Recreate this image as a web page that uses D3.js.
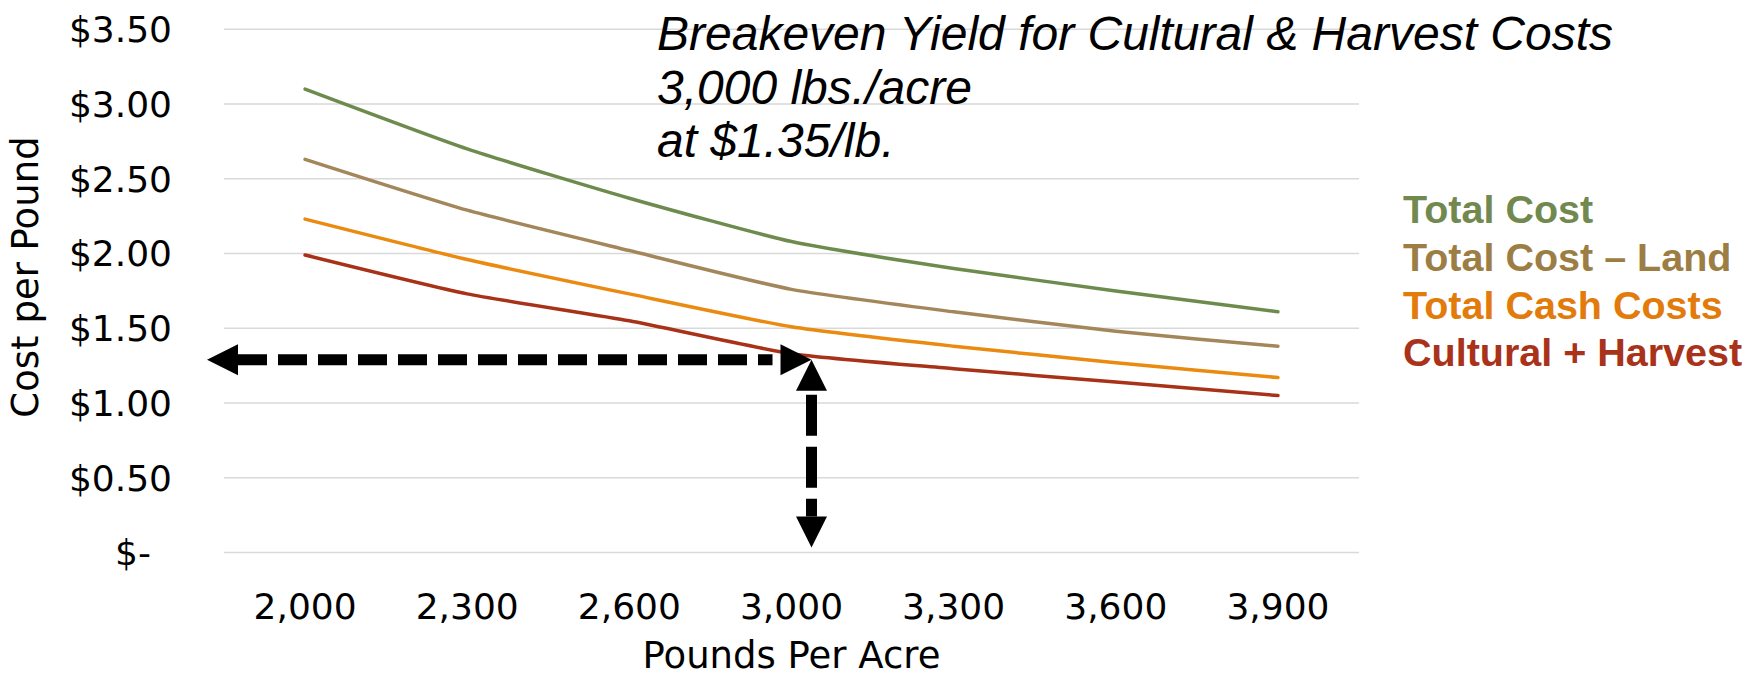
<!DOCTYPE html>
<html>
<head>
<meta charset="utf-8">
<script src="https://cdn.jsdelivr.net/npm/d3@7"></script>
<style>
  body { margin: 0; background: #fff; }
  svg { display: block; }
</style>
</head>
<body>
<div id="chart"></div>
<script>
// yields on the x axis (lbs / acre)
const yields = ["2,000", "2,300", "2,600", "3,000", "3,300", "3,600", "3,900"];

// cost per pound
const totalCost     = [3.10, 2.70, 2.37, 2.08, 1.90, 1.75, 1.61];
const totalNoLand   = [2.63, 2.29, 2.02, 1.76, 1.61, 1.48, 1.38];
const totalCash     = [2.23, 1.96, 1.73, 1.51, 1.38, 1.27, 1.17];
const culturalHarv  = [1.99, 1.73, 1.55, 1.33, 1.23, 1.14, 1.05];

const seriesNames = ["Total Cost", "Total Cost \u2013 Land", "Total Cash Costs", "Cultural + Harvest"];
const yTicks = [0, 0.5, 1, 1.5, 2, 2.5, 3, 3.5];
const yTickLabels = ["$-", "$0.50", "$1.00", "$1.50", "$2.00", "$2.50", "$3.00", "$3.50"];

const titleLines = ["Breakeven Yield for Cultural & Harvest Costs", "3,000 lbs./acre", "at $1.35/lb."];

// breakeven point marked by the arrows
const breakevenYield = "3,000";
const breakevenCost = 1.29;

const config = {
    width: 1760,
    height: 680,
    left: 224,
    right: 1359,
    top: 29.3,
    bottom: 552.5
};

const lineColors = ["#6d8b4d", "#a3875a", "#eb8a10", "#a83218"];
const textColors = ["#71894f", "#9c7e45", "#e27b0b", "#a9331a"];
const axisFont = "'DejaVu Sans', sans-serif";

const svg = d3.select("#chart")
    .append("svg")
    .attr("width", config.width)
    .attr("height", config.height);

const x = d3.scalePoint()
    .domain(yields)
    .range([config.left, config.right])
    .padding(0.5);

const y = d3.scaleLinear()
    .domain([0, 3.5])
    .range([config.bottom, config.top]);

// gridlines
svg.append("g")
    .selectAll("line")
    .data(yTicks)
    .enter()
    .append("line")
    .attr("x1", config.left)
    .attr("x2", config.right)
    .attr("y1", d => y(d))
    .attr("y2", d => y(d))
    .attr("stroke", "#d9d9d9")
    .attr("stroke-width", 1.6);

// y tick labels (accounting style, the dash sits a bit to the left)
svg.append("g")
    .selectAll("text")
    .data(yTicks)
    .enter()
    .append("text")
    .attr("x", d => d === 0 ? 151 : 172)
    .attr("y", d => y(d))
    .attr("dy", "0.36em")
    .attr("text-anchor", "end")
    .style("font-family", axisFont)
    .style("font-size", "36px")
    .attr("fill", "#000")
    .text((d, i) => yTickLabels[i]);

// x tick labels
svg.append("g")
    .selectAll("text")
    .data(yields)
    .enter()
    .append("text")
    .attr("x", d => x(d))
    .attr("y", 619)
    .attr("text-anchor", "middle")
    .style("font-family", axisFont)
    .style("font-size", "36px")
    .attr("fill", "#000")
    .text(d => d);

// axis titles
svg.append("text")
    .attr("transform", "translate(38,277) rotate(-90)")
    .attr("text-anchor", "middle")
    .style("font-family", axisFont)
    .style("font-size", "37px")
    .text("Cost per Pound");

svg.append("text")
    .attr("x", (config.left + config.right) / 2)
    .attr("y", 668)
    .attr("text-anchor", "middle")
    .style("font-family", axisFont)
    .style("font-size", "37px")
    .text("Pounds Per Acre");

// series lines
const allSeries = [totalCost, totalNoLand, totalCash, culturalHarv];

const line = d3.line()
    .x((d, i) => x(yields[i]))
    .y(d => y(d))
    .curve(d3.curveCardinal.tension(0.45));

svg.append("g")
    .selectAll("path")
    .data(allSeries)
    .enter()
    .append("path")
    .attr("d", d => line(d))
    .attr("fill", "none")
    .attr("stroke", (d, i) => lineColors[i])
    .attr("stroke-width", 3.5)
    .attr("stroke-linecap", "round");

// legend text on the right
svg.append("g")
    .selectAll("text")
    .data(seriesNames)
    .enter()
    .append("text")
    .attr("x", 1403)
    .attr("y", (d, i) => 223 + i * 47.8)
    .style("font-family", "'Liberation Sans', Arial, sans-serif")
    .style("font-weight", "bold")
    .style("font-size", "39.5px")
    .attr("fill", (d, i) => textColors[i])
    .text(d => d);

// title block
svg.append("g")
    .selectAll("text")
    .data(titleLines)
    .enter()
    .append("text")
    .attr("x", 657)
    .attr("y", (d, i) => 50 + i * 53.5)
    .style("font-family", "'Liberation Sans', Arial, sans-serif")
    .style("font-style", "italic")
    .style("font-size", "48px")
    .attr("fill", "#000")
    .text(d => d);

// breakeven arrows
const ax = x(breakevenYield) + 20;
const ay = y(breakevenCost);
const head = 31, half = 15.5;
const arrows = svg.append("g");

// horizontal, pointing at both ends
const hLeft = config.left - 17;
arrows.append("line")
    .attr("x1", hLeft + head)
    .attr("x2", ax - head - 8)
    .attr("y1", ay).attr("y2", ay)
    .attr("stroke", "#000")
    .attr("stroke-width", 11)
    .attr("stroke-dasharray", "29 11");
arrows.append("path")
    .attr("d", `M${hLeft},${ay} L${hLeft + head},${ay - half} L${hLeft + head},${ay + half} Z`);
arrows.append("path")
    .attr("d", `M${ax},${ay} L${ax - head},${ay - half} L${ax - head},${ay + half} Z`);

// vertical, from the breakeven point down to the axis
const vBottom = y(0) - 5;
arrows.append("line")
    .attr("x1", ax).attr("x2", ax)
    .attr("y1", ay + head + 4)
    .attr("y2", vBottom - head)
    .attr("stroke", "#000")
    .attr("stroke-width", 11)
    .attr("stroke-dasharray", "41 11");
arrows.append("path")
    .attr("d", `M${ax},${ay} L${ax - half},${ay + head} L${ax + half},${ay + head} Z`);
arrows.append("path")
    .attr("d", `M${ax},${vBottom} L${ax - half},${vBottom - head} L${ax + half},${vBottom - head} Z`);
</script>
</body>
</html>
